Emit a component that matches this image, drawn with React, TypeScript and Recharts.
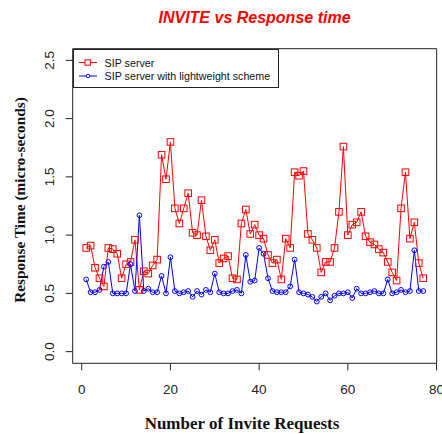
import { LineChart, Line, XAxis, YAxis, ReferenceArea, Legend } from "recharts";

// invite request number (x)
const invites = [
  1, 2, 3, 4, 5, 6, 7, 8, 9, 10, 11, 12, 13, 14, 15, 16, 17, 18, 19, 20,
  21, 22, 23, 24, 25, 26, 27, 28, 29, 30, 31, 32, 33, 34, 35, 36, 37, 38, 39, 40,
  41, 42, 43, 44, 45, 46, 47, 48, 49, 50, 51, 52, 53, 54, 55, 56, 57, 58, 59, 60,
  61, 62, 63, 64, 65, 66, 67, 68, 69, 70, 71, 72, 73, 74, 75, 76, 77,
];

// response time, micro-seconds
const sipServer = [
  0.89, 0.91, 0.72, 0.63, 0.56, 0.89, 0.88, 0.84, 0.63, 0.75, 0.77, 0.96, 0.53, 0.69, 0.67, 0.74, 0.79, 1.69, 1.48, 1.8,
  1.23, 1.1, 1.23, 1.36, 1.02, 1.0, 1.3, 0.99, 0.87, 0.96, 0.76, 0.8, 0.82, 0.63, 0.62, 1.1, 1.22, 1.01, 1.09, 1.0,
  0.97, 0.83, 0.76, 0.79, 0.62, 0.97, 0.89, 1.54, 1.51, 1.55, 1.01, 0.96, 0.89, 0.68, 0.77, 0.77, 0.89, 1.2, 1.76, 1.0,
  1.09, 1.11, 1.2, 0.99, 0.94, 0.92, 0.88, 0.85, 0.77, 0.68, 0.61, 1.23, 1.54, 0.97, 1.11, 0.76, 0.63,
];

const lightweight = [
  0.62, 0.51, 0.51, 0.53, 0.73, 0.77, 0.5, 0.5, 0.5, 0.5, 0.75, 0.52, 1.17, 0.52, 0.54, 0.51, 0.51, 0.65, 0.5, 0.81,
  0.52, 0.5, 0.51, 0.52, 0.47, 0.52, 0.49, 0.53, 0.51, 0.67, 0.51, 0.5, 0.5, 0.52, 0.53, 0.5, 0.83, 0.6, 0.61, 0.89,
  0.84, 0.63, 0.52, 0.51, 0.51, 0.51, 0.56, 0.79, 0.51, 0.5, 0.49, 0.47, 0.43, 0.47, 0.5, 0.44, 0.48, 0.5, 0.5, 0.51,
  0.46, 0.54, 0.5, 0.5, 0.51, 0.52, 0.5, 0.5, 0.62, 0.5, 0.51, 0.53, 0.51, 0.52, 0.87, 0.52, 0.52,
];

const xTicks = [0, 20, 40, 60, 80];
const yTicks = [0, 0.5, 1, 1.5, 2, 2.5];

const data = invites.map((n, i) => ({ n, sip: sipServer[i], light: lightweight[i] }));

const SANS = "'Liberation Sans', Arial, sans-serif";
const SERIF = "'Liberation Serif', 'Times New Roman', serif";

const SquareDot = (props: any) => {
  const { cx, cy, index } = props;
  if (cx == null || cy == null) return <g key={`s${index}`} />;
  return (
    <rect key={`s${index}`} x={cx - 3.3} y={cy - 3.3} width={6.6} height={6.6}
      fill="none" stroke="#ff0000" strokeWidth={1} />
  );
};

const YTick = (props: any) => {
  const { x, y, payload } = props;
  return (
    <text x={x} y={y} transform={`rotate(-90, ${x}, ${y})`} textAnchor="middle"
      fontSize={13.5} fontFamily={SANS} fill="#222">
      {payload.value.toFixed(1)}
    </text>
  );
};

const LegendBox = () => (
  <svg width={206} height={39} style={{ display: "block" }}>
    <rect x={0.5} y={0.5} width={205} height={38} fill="#fff" stroke="#222" />
    <line x1={6} x2={24} y1={13.5} y2={13.5} stroke="#ff0000" />
    <rect x={12} y={10.8} width={5.4} height={5.4} fill="#fff" stroke="#ff0000" />
    <text x={31.6} y={17.8} fontSize={10.7} fontFamily={SANS} fill="#111">SIP server</text>
    <line x1={6} x2={24} y1={27} y2={27} stroke="#0000ff" />
    <circle cx={15} cy={27} r={1.8} fill="#fff" stroke="#0000ff" />
    <text x={31.6} y={31.3} fontSize={10.7} fontFamily={SANS} fill="#111">SIP server with lightweight scheme</text>
  </svg>
);

export default function App() {
  return (
    <div style={{ position: "absolute", left: 0, top: 0, width: 442, height: 434, background: "#fff" }}>
      <LineChart width={442} height={434} data={data}
        margin={{ top: 48.7, right: 5.3, bottom: 40.7, left: 12.7 }}>
        <XAxis dataKey="n" type="number" domain={[-2.04, 80.04]} ticks={xTicks} allowDataOverflow
          height={30} axisLine={false} tickSize={7} tickMargin={14} interval={0}
          tickLine={{ stroke: "#222" }}
          tick={{ fill: "#222", fontSize: 13.5, fontFamily: SANS }} />
        <YAxis type="number" domain={[-0.1, 2.6]} ticks={yTicks} allowDataOverflow interval={0}
          width={60} axisLine={false} tickSize={7} tickMargin={11.5}
          tickLine={{ stroke: "#222" }} tick={<YTick />} />
        <ReferenceArea x1={-2.04} x2={80.04} y1={-0.1} y2={2.6} fill="none" fillOpacity={0}
          stroke="#222" strokeWidth={1} ifOverflow="extendDomain" />
        <Line dataKey="sip" stroke="#ff0000" strokeWidth={1} dot={SquareDot}
          isAnimationActive={false} />
        <Line dataKey="light" stroke="#0000ff" strokeWidth={1}
          dot={{ r: 2.4, stroke: "#0000ff", strokeWidth: 1, fill: "none" }}
          isAnimationActive={false} />
        <Legend layout="horizontal" verticalAlign="middle" align="center"
          wrapperStyle={{ left: 72.7, top: 48.7, width: 206, height: 39 }}
          content={<LegendBox />} />
        <text x={254.5} y={22.7} textAnchor="middle" fill="#ff0000" fontSize={16}
          fontWeight="bold" fontStyle="italic" fontFamily={SANS}>
          INVITE vs Response time
        </text>
        <text x={242} y={429} textAnchor="middle" fill="#111" fontSize={17}
          fontWeight="bold" fontFamily={SERIF}>
          Number of Invite Requests
        </text>
        <text x={25} y={200} transform="rotate(-90, 25, 200)" textAnchor="middle" fill="#111"
          fontSize={15.3} fontWeight="bold" fontFamily={SERIF}>
          Response Time (micro-seconds)
        </text>
      </LineChart>
    </div>
  );
}
